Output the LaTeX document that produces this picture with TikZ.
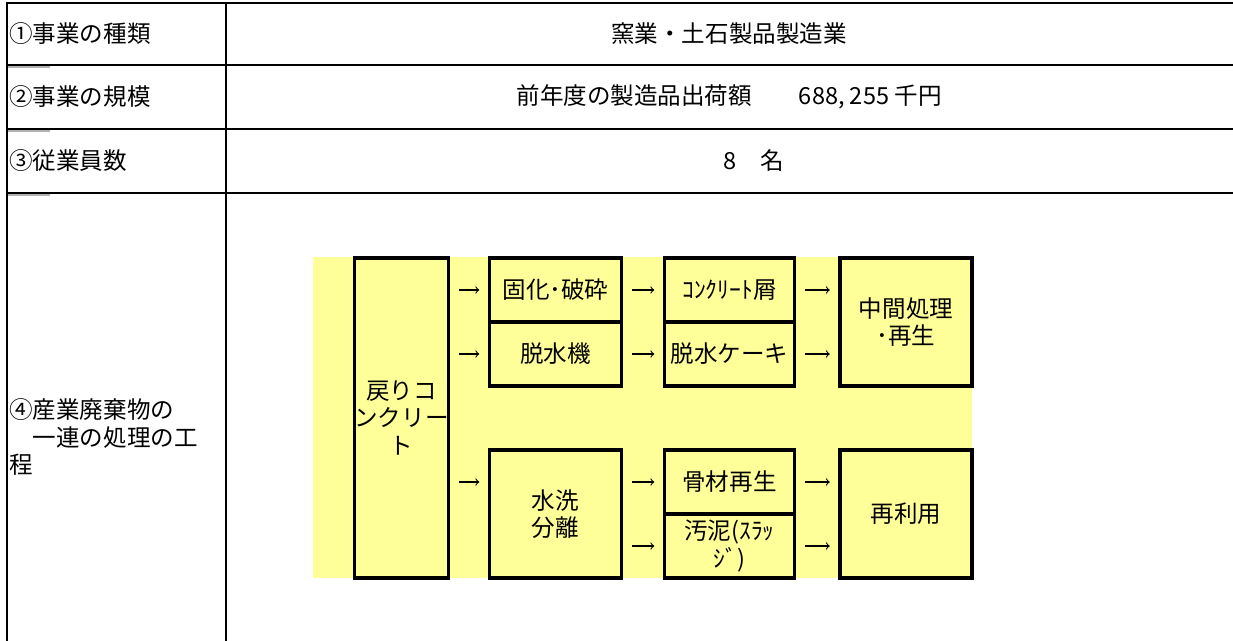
\documentclass[tikz,border=0pt]{standalone}
\usepackage{fontspec}
\setmainfont{Noto Sans CJK JP}
\usepackage{tikz}
\definecolor{boxyellow}{HTML}{FFFF99}

\begin{document}
\begin{tikzpicture}[x=0.02cm, y=-0.02cm]
        \tikzstyle{every node} = [font=\fontsize{13.4}{15.5}\selectfont, inner sep=0pt]
        \tikzstyle{stage} = [draw, line width=2pt, fill=boxyellow, align=center, minimum width=2.64cm, minimum height=1.28cm]
        \tikzstyle{arr} = [->, line width=0.6pt, shorten <=0.17cm, shorten >=0.17cm]
        \useasboundingbox (0,0) rectangle (1233,641);
        % table
        \foreach \y in {3, 65, 129, 193}
            \draw[line width=1.3pt] (7,\y) -- (1233,\y);
        \draw[line width=1pt] (7,2) -- (7,641);
        \draw[line width=1pt] (226,2) -- (226,641);
        \foreach \y in {67, 131, 195}
            \draw[gray!60, line width=0.8pt] (8,\y) -- (50,\y);
        \node[anchor=west] (kind) at (9,34) {①事業の種類};
        \node[anchor=west] (scale) at (9,97) {②事業の規模};
        \node[anchor=west] (staff) at (9,161) {③従業員数};
        \node[anchor=west, align=left] (process) at (9,437) {④産業廃棄物の\\　一連の処理の工\\程};
        \node (kindval) at (729,34) {窯業・土石製品製造業};
        \node (scaleval) at (729,97) {前年度の製造品出荷額　　688, 255 千円};
        \node (staffval) at (754,161) {8　名};
        % flow
        \fill[boxyellow] (313,257) rectangle (972,578);
        \node[stage, minimum width=1.76cm, minimum height=6.4cm] (modori) at (401.5,418) {戻りコ\\ンクリー\\ト};
        \node[stage] (kokai) at (555.5,290) {固化･破砕};
        \node[stage] (dassuiki) at (555.5,354) {脱水機};
        \node[stage, minimum height=2.56cm] (suisen) at (555.5,514) {水洗\\分離};
        \node[stage, minimum width=2.6cm] (kuzu) at (729.5,290) {ｺﾝｸﾘｰﾄ屑};
        \node[stage, minimum width=2.6cm] (cake) at (729.5,354) {脱水ケーキ};
        \node[stage, minimum width=2.6cm] (kotsuzai) at (729.5,482) {骨材再生};
        \node[stage, minimum width=2.6cm] (odei) at (729.5,546) {汚泥(ｽﾗｯ\\ｼﾞ)};
        \node[stage, minimum height=2.56cm] (chukan) at (906,322) {中間処理\\･再生};
        \node[stage, minimum height=2.56cm] (riyou) at (906,514) {再利用};
        \foreach \from/\to in {modori/kokai, modori/dassuiki, kokai/kuzu, dassuiki/cake, suisen/kotsuzai, suisen/odei}
            \draw[arr] (\from.east |- \to.west) -- (\to.west);
        \foreach \from/\to in {kuzu/chukan, cake/chukan, kotsuzai/riyou, odei/riyou}
            \draw[arr] (\from.east) -- (\to.west |- \from.east);
        \draw[arr] (modori.east |- kotsuzai.west) -- (suisen.west |- kotsuzai.west);
    \end{tikzpicture}
\end{document}
